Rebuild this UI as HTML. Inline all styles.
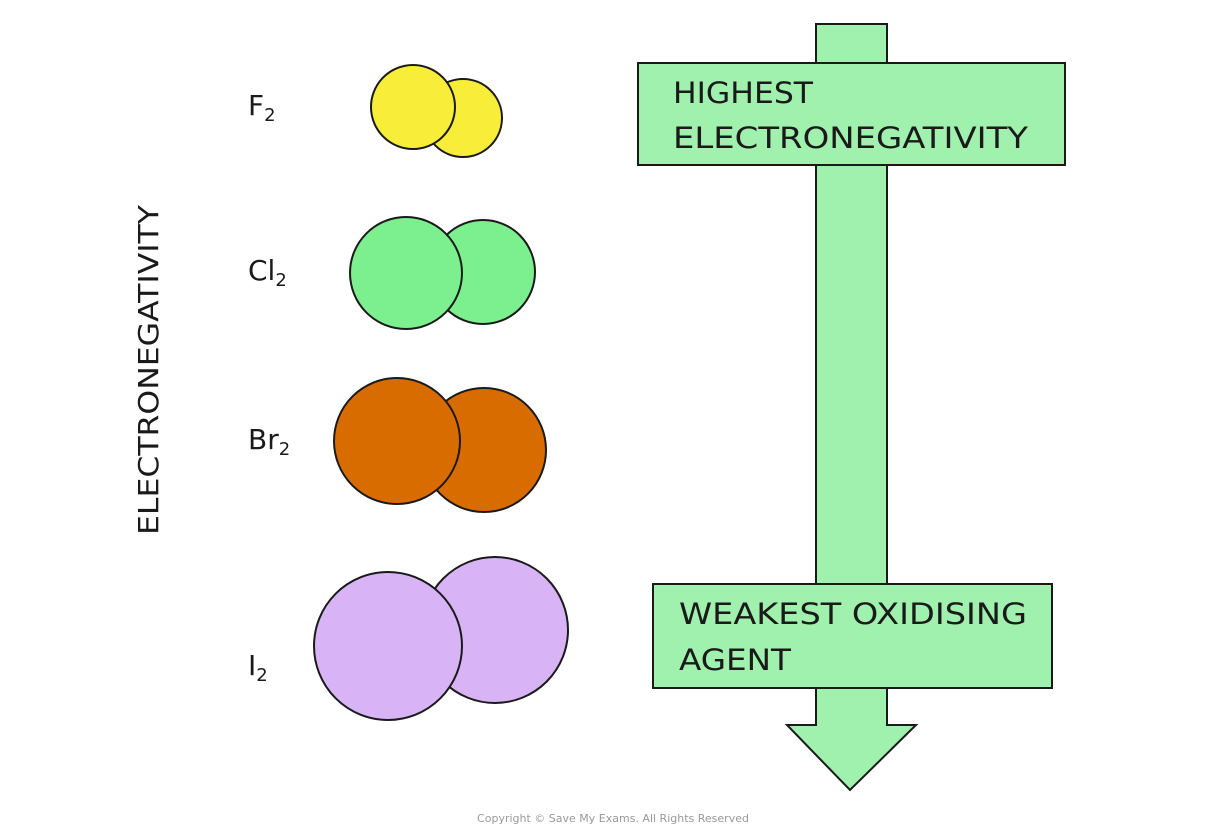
<!DOCTYPE html>
<html><head><meta charset="utf-8"><style>
body{margin:0;background:#fff;}
svg{display:block}
text{font-family:"DejaVu Sans","Liberation Sans",sans-serif;fill:#1a1a1a}
</style></head><body>
<svg width="1226" height="838" viewBox="0 0 1226 838">
<g stroke="#1a1a1a" stroke-width="2">
<polygon points="816,24 887,24 887,725 916,725 850,790 787,725 816,725" fill="#a0f0ae"/>
<rect x="638" y="63" width="427" height="102" fill="#a0f0ae"/>
<rect x="653" y="584" width="399" height="104" fill="#a0f0ae"/>
<circle cx="463" cy="118" r="39" fill="#f8ee3a"/>
<circle cx="413" cy="107" r="42" fill="#f8ee3a"/>
<circle cx="483" cy="272" r="52" fill="#7cf08e"/>
<circle cx="406" cy="273" r="56" fill="#7cf08e"/>
<circle cx="484" cy="450" r="62" fill="#d96c00"/>
<circle cx="397" cy="441" r="63" fill="#d96c00"/>
<circle cx="495" cy="630" r="73" fill="#d8b4f6"/>
<circle cx="388" cy="646" r="74" fill="#d8b4f6"/>
</g>
<text x="673" y="103" font-size="29" textLength="140" lengthAdjust="spacingAndGlyphs">HIGHEST</text>
<text x="673" y="148" font-size="29" textLength="355" lengthAdjust="spacingAndGlyphs">ELECTRONEGATIVITY</text>
<text x="679" y="624" font-size="29" textLength="348" lengthAdjust="spacingAndGlyphs">WEAKEST  OXIDISING</text>
<text x="679" y="670" font-size="29" textLength="112" lengthAdjust="spacingAndGlyphs">AGENT</text>
<text x="248" y="115" font-size="28">F<tspan font-size="18" dy="6">2</tspan></text>
<text x="248" y="280" font-size="28">Cl<tspan font-size="18" dy="6">2</tspan></text>
<text x="248" y="449" font-size="28">Br<tspan font-size="18" dy="6">2</tspan></text>
<text x="248" y="675" font-size="28">I<tspan font-size="18" dy="6">2</tspan></text>
<text transform="translate(158,370) rotate(-90)" text-anchor="middle" font-size="28" textLength="330" lengthAdjust="spacingAndGlyphs">ELECTRONEGATIVITY</text>
<text x="613" y="822" text-anchor="middle" font-size="11" style="fill:#999">Copyright © Save My Exams. All Rights Reserved</text>
</svg>
</body></html>
